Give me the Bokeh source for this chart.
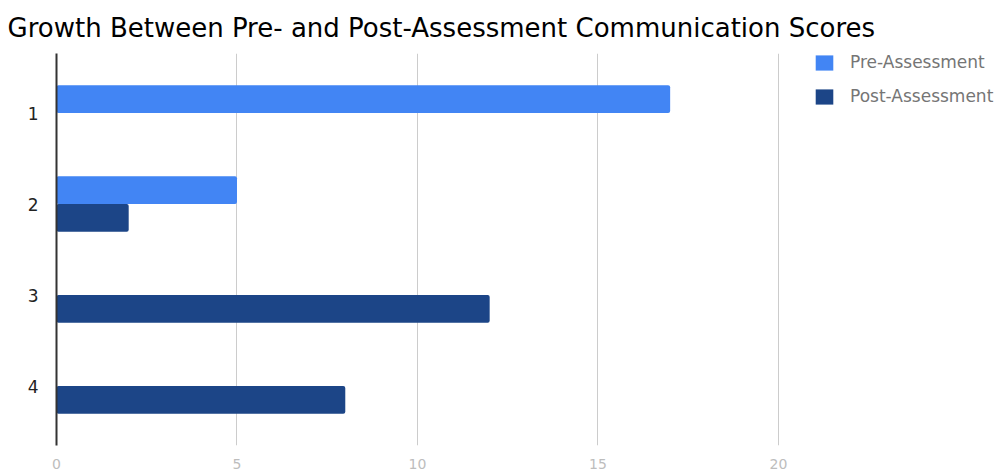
from bokeh.plotting import figure
from bokeh.models import ColumnDataSource, Range1d, FixedTicker, Legend, LegendItem
from bokeh.transform import dodge
from bokeh.embed import file_html
from bokeh.resources import INLINE

title_text = "Growth Between Pre- and Post-Assessment Communication Scores"
categories = [1, 2, 3, 4]
pre_assessment = [17, 5, 0, 0]
post_assessment = [0, 2, 12, 8]
x_ticks = [0, 5, 10, 15, 20]

src = ColumnDataSource(dict(cat=categories, pre=pre_assessment, post=post_assessment))

# frame: x 56..1005, y 52..447 in picture pixels
p = figure(width=1005, height=471, output_backend="svg", toolbar_location=None,
           x_range=Range1d(0, 26.29), y_range=Range1d(4.654, 0.345),
           min_border_left=56, min_border_right=0, min_border_top=52, min_border_bottom=24)

p.title.text = title_text
p.title.text_font = "DejaVu Sans"
p.title.text_font_size = "26px"
p.title.text_font_style = "normal"
p.title.text_color = "#000000"
p.title.offset = -49
p.title.standoff = 21

bar_h = 0.3055
r_pre = p.hbar(y=dodge('cat', -0.1528), right='pre', left=0, height=bar_h, source=src,
               fill_color="#4285F4", line_color=None, border_radius=2)
r_post = p.hbar(y=dodge('cat', 0.1528), right='post', left=0, height=bar_h, source=src,
                fill_color="#1C4587", line_color=None, border_radius=2)

p.outline_line_color = None
p.background_fill_color = "white"

p.xaxis.ticker = FixedTicker(ticks=x_ticks)
p.xaxis.axis_line_color = None
p.xaxis.major_tick_line_color = None
p.xaxis.minor_tick_line_color = None
p.xaxis.major_label_text_color = "#bdbdbd"
p.xaxis.major_label_text_font = "DejaVu Sans"
p.xaxis.major_label_text_font_size = "14px"
p.xaxis.major_label_standoff = 7

p.yaxis.ticker = FixedTicker(ticks=categories)
p.yaxis.axis_line_color = "#333333"
p.yaxis.axis_line_width = 2
p.yaxis.major_tick_line_color = None
p.yaxis.minor_tick_line_color = None
p.yaxis.major_label_text_color = "#222222"
p.yaxis.major_label_text_font = "DejaVu Sans"
p.yaxis.major_label_text_font_size = "17px"
p.yaxis.major_label_standoff = 12

p.xgrid.ticker = FixedTicker(ticks=x_ticks)
p.xgrid.grid_line_color = "#cccccc"
p.xgrid.grid_line_width = 1
p.ygrid.grid_line_color = None

legend = Legend(items=[LegendItem(label="Pre-Assessment", renderers=[r_pre]),
                       LegendItem(label="Post-Assessment", renderers=[r_post])],
                location=(757, 339), orientation="vertical",
                glyph_width=22, glyph_height=19, label_height=19, spacing=14,
                label_standoff=15, padding=0, margin=0,
                label_text_font="DejaVu Sans", label_text_font_size="17px",
                label_text_color="#757575",
                background_fill_alpha=0, border_line_color=None)
p.add_layout(legend)

open("out.html", "w").write(file_html(p, INLINE))
